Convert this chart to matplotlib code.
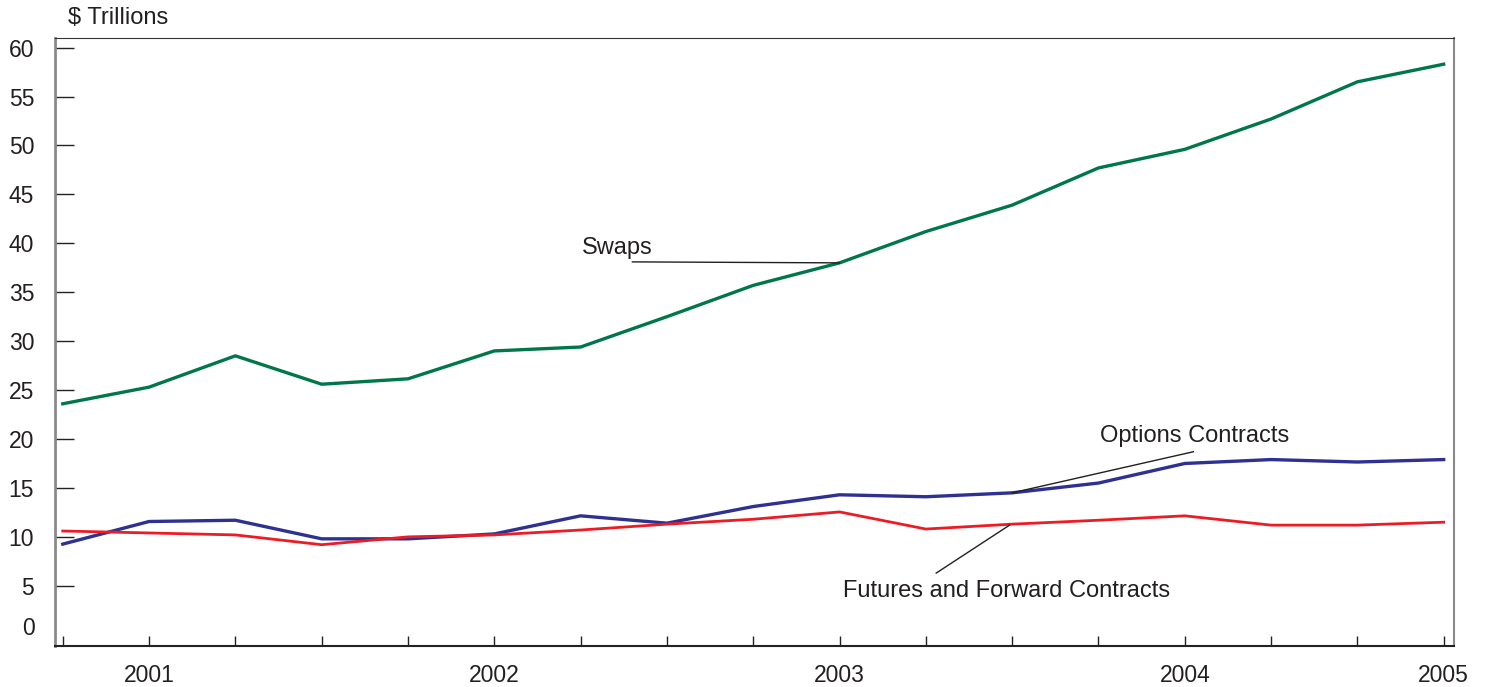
import matplotlib.pyplot as plt

plt.rcParams['font.family'] = ['Liberation Sans', 'DejaVu Sans']

# quarterly points, 17 of them
quarters = list(range(17))
swaps = [23.6, 25.3, 28.5, 25.6, 26.15, 29.0, 29.4, 32.5, 35.7, 38.0,
         41.2, 43.9, 47.7, 49.6, 52.7, 56.5, 58.3]
options = [9.26, 11.57, 11.7, 9.8, 9.8, 10.3, 12.15, 11.4, 13.1, 14.3,
           14.1, 14.5, 15.5, 17.5, 17.9, 17.65, 17.9]
futures = [10.6, 10.4, 10.2, 9.2, 10.0, 10.2, 10.7, 11.3, 11.8, 12.55,
           10.8, 11.3, 11.7, 12.15, 11.2, 11.2, 11.5]
year_labels = {1: '2001', 5: '2002', 9: '2003', 13: '2004', 16: '2005'}
year_breaks = [3, 7, 11, 15]

fig = plt.figure(figsize=(14.86, 6.87), dpi=100)
ax = fig.add_axes([0.037, 0.0597, 0.9415, 0.8853])

ax.plot(quarters, swaps, color='#00774A', lw=2.4)
ax.plot(quarters, options, color='#2E3192', lw=2.4)
ax.plot(quarters, futures, color='#ED1C24', lw=2.0)

ax.set_xlim(-0.09, 16.12)
ax.set_ylim(-1.15, 61.0)

ax.set_yticks(range(5, 61, 5))
ax.tick_params(axis='y', direction='in', length=14, width=1, color='#222222',
               labelsize=16.5, pad=15, labelcolor='#231F20')
ax.text(-0.0143, 0.6, '0', transform=ax.get_yaxis_transform(), ha='right',
        va='center', fontsize=16.5, color='#231F20')

ax.set_xticks(quarters)
ax.set_xticklabels([year_labels.get(q, '') for q in quarters])
ax.tick_params(axis='x', which='major', direction='in', length=7, width=1,
               color='#222222', labelsize=16.5, pad=13, labelcolor='#231F20')
ax.set_xticks(year_breaks, minor=True)
ax.tick_params(axis='x', which='minor', direction='in', length=13, width=1,
               color='#222222')

ax.spines['left'].set_color('#8a8a8a')
ax.spines['left'].set_linewidth(2)
ax.spines['right'].set_color('#8a8a8a')
ax.spines['right'].set_linewidth(1.5)
ax.spines['top'].set_color('#333333')
ax.spines['bottom'].set_color('#222222')
ax.spines['bottom'].set_linewidth(1.5)

fig.text(0.0455, 0.974, '$ Trillions', fontsize=17, va='center', color='#231F20')

# labels with leader lines
ax.text(6.43, 39.5, 'Swaps', fontsize=17, ha='center', va='center', color='#231F20')
ax.plot([6.6, 9.0], [38.1, 38.0], color='#231F20', lw=1)

ax.text(13.12, 20.3, 'Options Contracts', fontsize=17, ha='center', va='center', color='#231F20')
ax.plot([11.0, 13.1], [14.5, 18.7], color='#231F20', lw=1)

ax.text(10.93, 4.5, 'Futures and Forward Contracts', fontsize=17, ha='center', va='center', color='#231F20')
ax.plot([10.97, 10.12], [11.2, 6.3], color='#231F20', lw=1)

plt.savefig('out.png')
